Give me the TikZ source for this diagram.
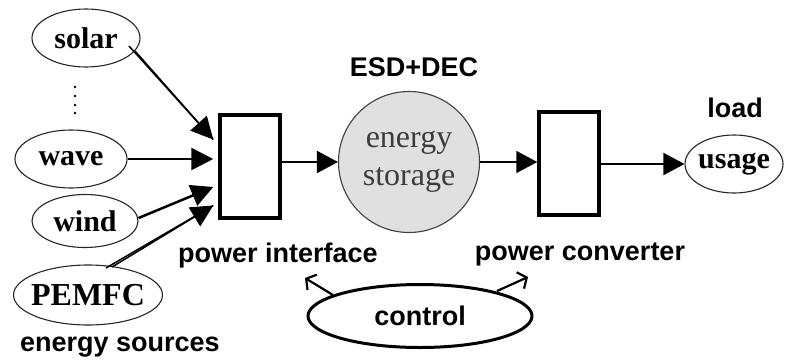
\documentclass[tikz,border=0pt]{standalone}
\usepackage{fontspec}
\setmainfont{Liberation Serif}
\newfontfamily\arialfont{Liberation Sans}
\usetikzlibrary{shapes.geometric,arrows.meta,calc}
\definecolor{storfill}{RGB}{224,224,224}
\definecolor{stortext}{RGB}{60,60,60}
\begin{document}
\begin{tikzpicture}[x=1pt,y=-1pt,
 src/.style={ellipse,draw=black!85,line width=1.1pt,inner sep=0pt},
 srctxt/.style={font=\fontsize{30}{30}\selectfont\bfseries,inner sep=0pt},
 blk/.style={rectangle,draw,line width=3.5pt,minimum width=60pt,minimum height=103pt},
 lbl/.style={font=\arialfont\fontsize{27}{30}\selectfont\bfseries,inner sep=0pt},
 inarr/.style={line width=2.5pt,-{Triangle[length=22pt,width=22pt]}},
 twin/.style={line width=1.5pt},
 flow/.style={line width=1.8pt,-{Triangle[length=21pt,width=22pt]}},
 ctl/.style={line width=2.2pt,-{Straight Barb[length=7pt,width=18pt]}}]
\fill[white] (0,0) rectangle (786,362);
\useasboundingbox (0,0) rectangle (786,362);

% sources
\node[src,minimum width=108pt,minimum height=58pt,label={[srctxt]center:solar}] (solar) at (86,38) {};
\node[src,minimum width=112pt,minimum height=58pt,label={[srctxt]center:wave}] (wave) at (71,159) {};
\node[src,minimum width=106pt,minimum height=53pt,label={[srctxt]center:wind}] (wind) at (85,221) {};
\node[src,minimum width=149pt,minimum height=60pt,label={[srctxt,font=\fontsize{32}{32}\selectfont\bfseries]center:PEMFC}] (pemfc) at (88,295) {};
\foreach \yy in {87,96,105,113} \fill (75,\yy) circle (1.4pt);

% blocks
\node[blk] (pi) at (250,166.5) {};
\node[circle,draw=black!75,line width=1.1pt,fill=storfill,minimum size=141pt,inner sep=0pt,
      align=center,text=stortext,font=\fontsize{32}{38}\selectfont] (es) at (409,162) {energy\\storage};
\node[blk] (pc) at (569,163.5) {};
\node[src,minimum width=98pt,minimum height=58pt,label={[srctxt]center:usage}] (usage) at (734,164) {};
\node[ellipse,draw,line width=3pt,minimum width=224pt,minimum height=63pt,inner sep=0pt,lbl] (ctrl) at (420,316) {control};

% labels
\node[lbl] (lsrc) at (120,347) {energy sources};
\node[lbl] (lesd) at (414,67) {ESD+DEC};
\node[lbl] (lload) at (735,108) {load};
\node[lbl] (lpi) at (278,256) {power interface};
\node[lbl] (lpc) at (580,254) {power converter};

% input connectors
\coordinate (tSol) at ($(pi.west)+(-5,-27)$);
\coordinate (tWave) at ($(pi.west)+(-5,-7.5)$);
\coordinate (tWind) at ($(pi.west)+(-5,20.5)$);
\coordinate (tPem) at ($(pi.west)+(-5,39)$);
\draw[twin,-{Triangle[length=22pt,width=22pt]}] ($(solar.center)+(43,8)$) -- (tSol);
\draw[twin] ($(solar.center)+(49,13)$) -- (tSol);
\draw[inarr] (wave.east) -- (tWave);
\draw[inarr] ($(wind.east)+(0,-3)$) -- (tWind);
\draw[twin,-{Triangle[length=22pt,width=22pt]}] ($(pemfc.center)+(24,-28)$) -- (tPem);
\draw[twin] ($(pemfc.center)+(18,-27)$) -- (tPem);

% main flow
\draw[flow] (pi.east |- es.west) -- (es.west);
\draw[flow] (es.east) -- (pc.west |- es.east);
\draw[flow] (pc.east |- usage.west) -- (usage.west);

% control
\coordinate (cL) at (305,278);
\coordinate (cR) at (528,277);
\draw[ctl] ($(ctrl.center)+(-87,-21)$) -- (cL);
\draw[ctl] ($(ctrl.center)+(77,-25)$) -- (cR);
\end{tikzpicture}
\end{document}
